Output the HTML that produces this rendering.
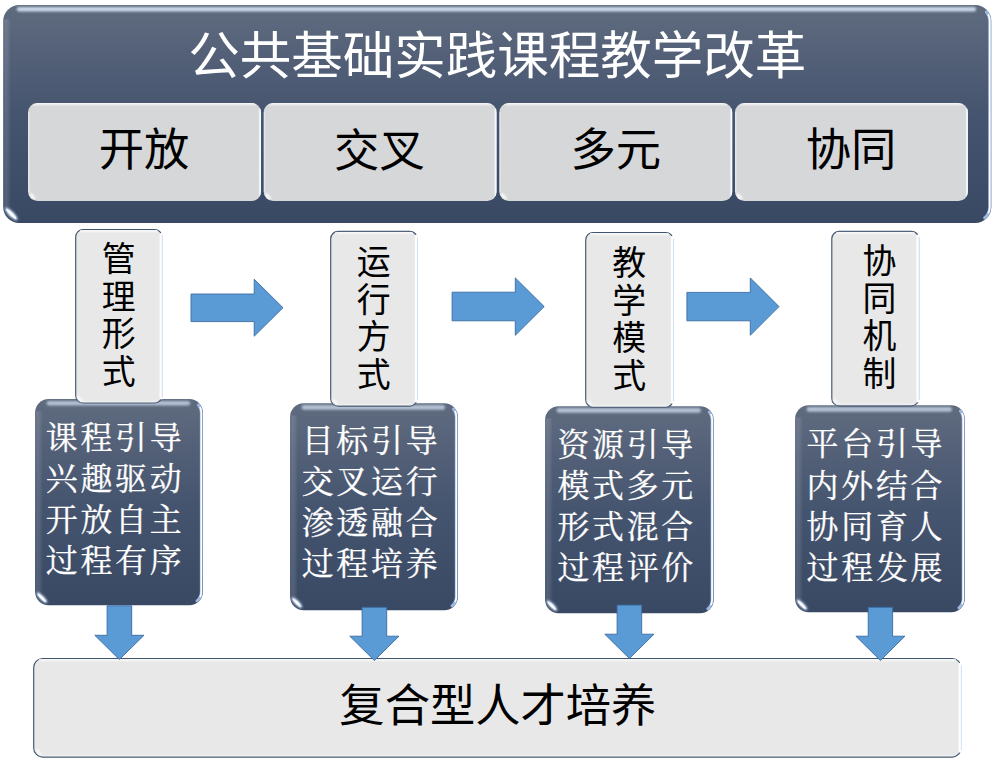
<!DOCTYPE html>
<html lang="zh-CN"><head><meta charset="utf-8"><title>公共基础实践课程教学改革</title>
<style>
html,body{margin:0;padding:0;background:#fff;overflow:hidden}
body{font-family:"Liberation Sans",sans-serif}
#stage{position:relative;width:995px;height:761px;overflow:hidden;background:#fff}
#stage svg{position:absolute;left:0;top:0;display:block}
.t{position:absolute;box-sizing:border-box;margin:0;color:transparent;text-align:center;white-space:nowrap;overflow:hidden;font-family:"Liberation Sans",sans-serif}
.t.k{text-align:left;font-family:"Liberation Serif",serif}
</style>
</head><body>
<div id="stage">
<svg width="995" height="761" viewBox="0 0 995 761" role="img" aria-label="公共基础实践课程教学改革">
<defs><linearGradient id="gd" x1="0" y1="0" x2="0" y2="1"><stop offset="0" stop-color="#5f6c7f"/><stop offset="0.25" stop-color="#525f77"/><stop offset="0.5" stop-color="#46556f"/><stop offset="1" stop-color="#394963"/></linearGradient><linearGradient id="gtop" x1="0" y1="0" x2="0" y2="1"><stop offset="0" stop-color="#c3cfe3" stop-opacity="0"/><stop offset="0.28" stop-color="#c3cfe3" stop-opacity="0.9"/><stop offset="0.5" stop-color="#c6d2e6" stop-opacity="1"/><stop offset="0.66" stop-color="#b4c0d5" stop-opacity="0.75"/><stop offset="1" stop-color="#8d9ab0" stop-opacity="0"/></linearGradient><linearGradient id="ltop" x1="0" y1="0" x2="0" y2="1"><stop offset="0" stop-color="#fff" stop-opacity="0.85"/><stop offset="1" stop-color="#fff" stop-opacity="0"/></linearGradient><linearGradient id="rhi" x1="0" y1="0" x2="1" y2="0"><stop offset="0" stop-color="#dbe8f8" stop-opacity="0"/><stop offset="0.35" stop-color="#e8f1fc" stop-opacity="0.95"/><stop offset="0.75" stop-color="#fff"/><stop offset="1" stop-color="#cfdcf0"/></linearGradient><linearGradient id="lhi" x1="0" y1="0" x2="1" y2="0"><stop offset="0" stop-color="#fff" stop-opacity="0"/><stop offset="0.2" stop-color="#fff" stop-opacity="0.13"/><stop offset="0.6" stop-color="#fff" stop-opacity="0.09"/><stop offset="1" stop-color="#fff" stop-opacity="0"/></linearGradient><filter id="bl" x="-50%" y="-50%" width="200%" height="200%"><feGaussianBlur stdDeviation="1.0"/></filter><filter id="bt" x="-5%" y="-200%" width="110%" height="500%"><feGaussianBlur stdDeviation="1.15"/></filter><filter id="bs" x="-50%" y="-50%" width="200%" height="200%"><feGaussianBlur stdDeviation="0.45"/></filter><linearGradient id="ol" x1="0" y1="0" x2="1" y2="0"><stop offset="0" stop-color="#3f5a80"/><stop offset="0.6" stop-color="#4e688c"/><stop offset="0.97" stop-color="#7d93b3"/><stop offset="1" stop-color="#b9c9e0"/></linearGradient><clipPath id="c1"><rect x="3.20" y="5.00" width="988.10" height="217.90" rx="16.00" /></clipPath><clipPath id="c2"><rect x="28.00" y="103.00" width="233.05" height="98.00" rx="9.50" /></clipPath><clipPath id="c3"><rect x="263.65" y="103.00" width="233.05" height="98.00" rx="9.50" /></clipPath><clipPath id="c4"><rect x="499.30" y="103.00" width="233.05" height="98.00" rx="9.50" /></clipPath><clipPath id="c5"><rect x="734.95" y="103.00" width="233.05" height="98.00" rx="9.50" /></clipPath><clipPath id="c6"><rect x="33.20" y="658.00" width="928.40" height="99.60" rx="9.50" /></clipPath><clipPath id="c7"><rect x="35.10" y="399.10" width="167.80" height="206.20" rx="13.50" /></clipPath><clipPath id="c8"><rect x="290.10" y="403.20" width="167.80" height="207.00" rx="13.50" /></clipPath><clipPath id="c9"><rect x="545.10" y="406.20" width="168.60" height="207.00" rx="13.50" /></clipPath><clipPath id="c10"><rect x="795.10" y="405.20" width="169.70" height="207.10" rx="13.50" /></clipPath><clipPath id="c11"><rect x="75.20" y="229.00" width="87.30" height="174.50" rx="8.00" /></clipPath><clipPath id="c12"><rect x="330.20" y="230.80" width="87.50" height="175.80" rx="8.00" /></clipPath><clipPath id="c13"><rect x="585.20" y="232.00" width="88.50" height="175.70" rx="8.00" /></clipPath><clipPath id="c14"><rect x="831.30" y="230.80" width="88.10" height="175.60" rx="8.00" /></clipPath></defs>
<rect x="3.20" y="5.00" width="988.10" height="217.90" rx="16.00" fill="url(#gd)"/>
<g clip-path="url(#c1)"><rect x="16.80" y="6.90" width="959.30" height="4.6" rx="2.3" fill="#c9d5e8" opacity="1.00" filter="url(#bt)"/><rect x="3.50" y="19.40" width="7.5" height="189.10" fill="url(#lhi)"/><path d="M986.33 11.74A14.40 14.40 0 0 1 989.70 21.00V206.90A14.40 14.40 0 0 1 984.56 217.93" fill="none" stroke="#9bb8e2" stroke-width="2.9" stroke-linecap="round" filter="url(#bs)"/><path d="M988.35 14.91A14.40 14.40 0 0 1 989.70 21.00V206.90A14.40 14.40 0 0 1 988.46 212.76" fill="none" stroke="#fff" stroke-width="1.6" stroke-linecap="round" filter="url(#bs)"/><ellipse cx="11.20" cy="213.94" rx="8.64" ry="2.72" transform="rotate(45 11.20 213.94)" fill="#c9dcf6" filter="url(#bl)"/><ellipse cx="11.20" cy="213.94" rx="7.04" ry="1.60" transform="rotate(45 11.20 213.94)" fill="#fff" filter="url(#bs)"/></g>
<rect x="28.00" y="103.00" width="233.05" height="98.00" rx="9.50" fill="#d6d7d9"/>
<g clip-path="url(#c2)"><rect x="31.80" y="103.00" width="224.50" height="3.6" fill="url(#ltop)"/><rect x="258.25" y="108.70" width="2.8" height="88.50" fill="url(#rhi)"/><rect x="28.00" y="112.50" width="1.6" height="79.00" fill="#fff" opacity="0.35"/><ellipse cx="32.27" cy="196.25" rx="4.0" ry="1.5" transform="rotate(45 32.27 196.25)" fill="#fff" filter="url(#bl)"/></g>
<rect x="263.65" y="103.00" width="233.05" height="98.00" rx="9.50" fill="#d6d7d9"/>
<g clip-path="url(#c3)"><rect x="267.45" y="103.00" width="224.50" height="3.6" fill="url(#ltop)"/><rect x="493.90" y="108.70" width="2.8" height="88.50" fill="url(#rhi)"/><rect x="263.65" y="112.50" width="1.6" height="79.00" fill="#fff" opacity="0.35"/><ellipse cx="267.92" cy="196.25" rx="4.0" ry="1.5" transform="rotate(45 267.92 196.25)" fill="#fff" filter="url(#bl)"/></g>
<rect x="499.30" y="103.00" width="233.05" height="98.00" rx="9.50" fill="#d6d7d9"/>
<g clip-path="url(#c4)"><rect x="503.10" y="103.00" width="224.50" height="3.6" fill="url(#ltop)"/><rect x="729.55" y="108.70" width="2.8" height="88.50" fill="url(#rhi)"/><rect x="499.30" y="112.50" width="1.6" height="79.00" fill="#fff" opacity="0.35"/><ellipse cx="503.57" cy="196.25" rx="4.0" ry="1.5" transform="rotate(45 503.57 196.25)" fill="#fff" filter="url(#bl)"/></g>
<rect x="734.95" y="103.00" width="233.05" height="98.00" rx="9.50" fill="#d6d7d9"/>
<g clip-path="url(#c5)"><rect x="738.75" y="103.00" width="224.50" height="3.6" fill="url(#ltop)"/><rect x="965.20" y="108.70" width="2.8" height="88.50" fill="url(#rhi)"/><rect x="734.95" y="112.50" width="1.6" height="79.00" fill="#fff" opacity="0.35"/><ellipse cx="739.23" cy="196.25" rx="4.0" ry="1.5" transform="rotate(45 739.23 196.25)" fill="#fff" filter="url(#bl)"/></g>
<rect x="33.70" y="658.50" width="927.40" height="98.60" rx="9.00" fill="#e8e8e8" stroke="#41546f" stroke-width="1.15"/>
<g clip-path="url(#c6)"><rect x="38.90" y="659.10" width="917.00" height="3.2" fill="url(#ltop)"/><rect x="38.90" y="754.70" width="917.00" height="1.8" fill="#fff" opacity="0.3"/><ellipse cx="38.43" cy="751.90" rx="3.6" ry="1.2" transform="rotate(45 38.43 751.90)" fill="#fff" filter="url(#bl)"/></g>
<rect x="958.70" y="662.75" width="3.3" height="90.10" rx="1.4" fill="#fff"/>
<rect x="960.90" y="665.60" width="0.7" height="84.40" fill="#bcd3ee"/>
<rect x="35.10" y="399.10" width="167.80" height="206.20" rx="13.50" fill="url(#gd)"/>
<g clip-path="url(#c7)"><rect x="46.58" y="401.00" width="143.50" height="4.6" rx="2.3" fill="#c9d5e8" opacity="0.80" filter="url(#bt)"/><rect x="35.40" y="411.25" width="7.5" height="181.90" fill="url(#lhi)"/><path d="M198.52 404.95A11.90 11.90 0 0 1 201.30 412.60V591.80A11.90 11.90 0 0 1 197.05 600.92" fill="none" stroke="#9bb8e2" stroke-width="2.9" stroke-linecap="round" filter="url(#bs)"/><path d="M200.19 407.57A11.90 11.90 0 0 1 201.30 412.60V591.80A11.90 11.90 0 0 1 200.27 596.64" fill="none" stroke="#fff" stroke-width="1.6" stroke-linecap="round" filter="url(#bs)"/><ellipse cx="41.85" cy="597.74" rx="7.29" ry="2.30" transform="rotate(45 41.85 597.74)" fill="#c9dcf6" filter="url(#bl)"/><ellipse cx="41.85" cy="597.74" rx="5.94" ry="1.35" transform="rotate(45 41.85 597.74)" fill="#fff" filter="url(#bs)"/></g>
<rect x="290.10" y="403.20" width="167.80" height="207.00" rx="13.50" fill="url(#gd)"/>
<g clip-path="url(#c8)"><rect x="301.58" y="405.10" width="143.50" height="4.6" rx="2.3" fill="#c9d5e8" opacity="0.80" filter="url(#bt)"/><rect x="290.40" y="415.35" width="7.5" height="182.70" fill="url(#lhi)"/><path d="M453.52 409.05A11.90 11.90 0 0 1 456.30 416.70V596.70A11.90 11.90 0 0 1 452.05 605.82" fill="none" stroke="#9bb8e2" stroke-width="2.9" stroke-linecap="round" filter="url(#bs)"/><path d="M455.19 411.67A11.90 11.90 0 0 1 456.30 416.70V596.70A11.90 11.90 0 0 1 455.27 601.54" fill="none" stroke="#fff" stroke-width="1.6" stroke-linecap="round" filter="url(#bs)"/><ellipse cx="296.85" cy="602.64" rx="7.29" ry="2.30" transform="rotate(45 296.85 602.64)" fill="#c9dcf6" filter="url(#bl)"/><ellipse cx="296.85" cy="602.64" rx="5.94" ry="1.35" transform="rotate(45 296.85 602.64)" fill="#fff" filter="url(#bs)"/></g>
<rect x="545.10" y="406.20" width="168.60" height="207.00" rx="13.50" fill="url(#gd)"/>
<g clip-path="url(#c9)"><rect x="556.58" y="408.10" width="144.30" height="4.6" rx="2.3" fill="#c9d5e8" opacity="0.80" filter="url(#bt)"/><rect x="545.40" y="418.35" width="7.5" height="182.70" fill="url(#lhi)"/><path d="M709.32 412.05A11.90 11.90 0 0 1 712.10 419.70V599.70A11.90 11.90 0 0 1 707.85 608.82" fill="none" stroke="#9bb8e2" stroke-width="2.9" stroke-linecap="round" filter="url(#bs)"/><path d="M710.99 414.67A11.90 11.90 0 0 1 712.10 419.70V599.70A11.90 11.90 0 0 1 711.07 604.54" fill="none" stroke="#fff" stroke-width="1.6" stroke-linecap="round" filter="url(#bs)"/><ellipse cx="551.85" cy="605.64" rx="7.29" ry="2.30" transform="rotate(45 551.85 605.64)" fill="#c9dcf6" filter="url(#bl)"/><ellipse cx="551.85" cy="605.64" rx="5.94" ry="1.35" transform="rotate(45 551.85 605.64)" fill="#fff" filter="url(#bs)"/></g>
<rect x="795.10" y="405.20" width="169.70" height="207.10" rx="13.50" fill="url(#gd)"/>
<g clip-path="url(#c10)"><rect x="806.58" y="407.10" width="145.40" height="4.6" rx="2.3" fill="#c9d5e8" opacity="0.80" filter="url(#bt)"/><rect x="795.40" y="417.35" width="7.5" height="182.80" fill="url(#lhi)"/><path d="M960.42 411.05A11.90 11.90 0 0 1 963.20 418.70V598.80A11.90 11.90 0 0 1 958.95 607.92" fill="none" stroke="#9bb8e2" stroke-width="2.9" stroke-linecap="round" filter="url(#bs)"/><path d="M962.09 413.67A11.90 11.90 0 0 1 963.20 418.70V598.80A11.90 11.90 0 0 1 962.17 603.64" fill="none" stroke="#fff" stroke-width="1.6" stroke-linecap="round" filter="url(#bs)"/><ellipse cx="801.85" cy="604.74" rx="7.29" ry="2.30" transform="rotate(45 801.85 604.74)" fill="#c9dcf6" filter="url(#bl)"/><ellipse cx="801.85" cy="604.74" rx="5.94" ry="1.35" transform="rotate(45 801.85 604.74)" fill="#fff" filter="url(#bs)"/></g>
<rect x="75.70" y="229.50" width="86.30" height="173.50" rx="7.50" fill="#e8e8e8" stroke="#41546f" stroke-width="1.15"/>
<g clip-path="url(#c11)"><rect x="80.00" y="230.10" width="77.70" height="3.2" fill="url(#ltop)"/><rect x="80.00" y="400.60" width="77.70" height="1.8" fill="#fff" opacity="0.3"/><ellipse cx="79.60" cy="398.70" rx="3.6" ry="1.2" transform="rotate(45 79.60 398.70)" fill="#fff" filter="url(#bl)"/></g>
<rect x="159.60" y="233.00" width="3.3" height="166.50" rx="1.4" fill="#fff"/>
<rect x="161.80" y="235.40" width="0.7" height="161.70" fill="#bcd3ee"/>
<rect x="330.70" y="231.30" width="86.50" height="174.80" rx="7.50" fill="#e8e8e8" stroke="#41546f" stroke-width="1.15"/>
<g clip-path="url(#c12)"><rect x="335.00" y="231.90" width="77.90" height="3.2" fill="url(#ltop)"/><rect x="335.00" y="403.70" width="77.90" height="1.8" fill="#fff" opacity="0.3"/><ellipse cx="334.60" cy="401.80" rx="3.6" ry="1.2" transform="rotate(45 334.60 401.80)" fill="#fff" filter="url(#bl)"/></g>
<rect x="414.80" y="234.80" width="3.3" height="167.80" rx="1.4" fill="#fff"/>
<rect x="417.00" y="237.20" width="0.7" height="163.00" fill="#bcd3ee"/>
<rect x="585.70" y="232.50" width="87.50" height="174.70" rx="7.50" fill="#e8e8e8" stroke="#41546f" stroke-width="1.15"/>
<g clip-path="url(#c13)"><rect x="590.00" y="233.10" width="78.90" height="3.2" fill="url(#ltop)"/><rect x="590.00" y="404.80" width="78.90" height="1.8" fill="#fff" opacity="0.3"/><ellipse cx="589.60" cy="402.90" rx="3.6" ry="1.2" transform="rotate(45 589.60 402.90)" fill="#fff" filter="url(#bl)"/></g>
<rect x="670.80" y="236.00" width="3.3" height="167.70" rx="1.4" fill="#fff"/>
<rect x="673.00" y="238.40" width="0.7" height="162.90" fill="#bcd3ee"/>
<rect x="831.80" y="231.30" width="87.10" height="174.60" rx="7.50" fill="#e8e8e8" stroke="#41546f" stroke-width="1.15"/>
<g clip-path="url(#c14)"><rect x="836.10" y="231.90" width="78.50" height="3.2" fill="url(#ltop)"/><rect x="836.10" y="403.50" width="78.50" height="1.8" fill="#fff" opacity="0.3"/><ellipse cx="835.70" cy="401.60" rx="3.6" ry="1.2" transform="rotate(45 835.70 401.60)" fill="#fff" filter="url(#bl)"/></g>
<rect x="916.50" y="234.80" width="3.3" height="167.60" rx="1.4" fill="#fff"/>
<rect x="918.70" y="237.20" width="0.7" height="162.80" fill="#bcd3ee"/>
<path d="M107.10 605.80H131.70V635.30H144.00L119.40 659.50L94.80 635.30H107.10Z" fill="#5b9bd5" stroke="#3a6ba2" stroke-width="0.9" stroke-linejoin="miter"/>
<path d="M362.10 607.30H386.70V636.20H399.00L374.40 660.50L349.80 636.20H362.10Z" fill="#5b9bd5" stroke="#3a6ba2" stroke-width="0.9" stroke-linejoin="miter"/>
<path d="M617.10 605.10H641.70V634.20H654.00L629.40 658.50L604.80 634.20H617.10Z" fill="#5b9bd5" stroke="#3a6ba2" stroke-width="0.9" stroke-linejoin="miter"/>
<path d="M868.20 607.30H892.60V636.20H904.90L880.40 660.50L855.90 636.20H868.20Z" fill="#5b9bd5" stroke="#3a6ba2" stroke-width="0.9" stroke-linejoin="miter"/>
<path d="M191.00 294.00H254.20V279.20L283.00 307.70L254.20 336.20V321.60H191.00Z" fill="#5b9bd5" stroke="#3a6ba2" stroke-width="0.9" stroke-linejoin="miter"/>
<path d="M452.10 292.20H515.30V277.90L544.20 306.60L515.30 335.30V320.80H452.10Z" fill="#5b9bd5" stroke="#3a6ba2" stroke-width="0.9" stroke-linejoin="miter"/>
<path d="M686.90 292.40H750.30V277.90L779.00 306.60L750.30 335.30V320.80H686.90Z" fill="#5b9bd5" stroke="#3a6ba2" stroke-width="0.9" stroke-linejoin="miter"/>
<g font-family="'Liberation Sans','Noto Sans CJK SC',sans-serif" text-anchor="middle">
<text x="497.37" y="74.20" font-size="51.5" fill="#fff">公共基础实践课程教学改革</text>
<text x="144.03" y="166.37" font-size="45.3" fill="#000">开放</text>
<text x="379.42" y="166.55" font-size="45.3" fill="#000">交叉</text>
<text x="615.71" y="166.41" font-size="45.3" fill="#000">多元</text>
<text x="850.98" y="166.39" font-size="45.3" fill="#000">协同</text>
<text x="497.89" y="722.36" font-size="45.3" fill="#000">复合型人才培养</text>
<g font-size="33.9" fill="#000">
<text x="118.70" y="271.10">管</text><text x="118.70" y="308.70">理</text><text x="118.70" y="346.30">形</text><text x="118.70" y="383.90">式</text>
<text x="373.70" y="274.28">运</text><text x="373.70" y="311.88">行</text><text x="373.70" y="349.48">方</text><text x="373.70" y="387.08">式</text>
<text x="629.30" y="275.27">教</text><text x="629.30" y="312.87">学</text><text x="629.30" y="350.47">模</text><text x="629.30" y="388.07">式</text>
<text x="879.50" y="273.15">协</text><text x="879.50" y="310.75">同</text><text x="879.50" y="348.35">机</text><text x="879.50" y="385.95">制</text>
</g>
</g>
<g font-family="'Liberation Serif','Noto Serif CJK SC',serif" font-size="31.9" letter-spacing="2.77" fill="#fff" stroke="#fff" stroke-width="0.3" stroke-linejoin="round">
<text x="45.79" y="448.53">课程引导</text>
<text x="45.79" y="489.78">兴趣驱动</text>
<text x="45.79" y="531.03">开放自主</text>
<text x="45.79" y="572.28">过程有序</text>
<text x="301.69" y="451.53">目标引导</text>
<text x="301.69" y="492.78">交叉运行</text>
<text x="301.69" y="534.03">渗透融合</text>
<text x="301.69" y="575.28">过程培养</text>
<text x="557.39" y="455.71">资源引导</text>
<text x="557.39" y="496.96">模式多元</text>
<text x="557.39" y="538.21">形式混合</text>
<text x="557.39" y="579.46">过程评价</text>
<text x="806.59" y="455.30">平台引导</text>
<text x="806.59" y="496.55">内外结合</text>
<text x="806.59" y="537.80">协同育人</text>
<text x="806.59" y="579.05">过程发展</text>
</g>
</svg>
<div class="t" style="left:3.2px;top:24.0px;width:988.1px;height:62.0px;font-size:51.50px;line-height:62.0px">公共基础实践课程教学改革</div>
<div class="t" style="left:28.0px;top:103.0px;width:233.1px;height:98.0px;font-size:45.30px;line-height:98.0px">开放</div>
<div class="t" style="left:263.6px;top:103.0px;width:233.1px;height:98.0px;font-size:45.30px;line-height:98.0px">交叉</div>
<div class="t" style="left:499.3px;top:103.0px;width:233.1px;height:98.0px;font-size:45.30px;line-height:98.0px">多元</div>
<div class="t" style="left:735.0px;top:103.0px;width:233.0px;height:98.0px;font-size:45.30px;line-height:98.0px">协同</div>
<div class="t" style="left:75.2px;top:229.0px;width:87.3px;height:174.5px;font-size:33.9px;line-height:37.6px;padding-top:10px">管<br>理<br>形<br>式</div>
<div class="t" style="left:330.2px;top:230.8px;width:87.5px;height:175.8px;font-size:33.9px;line-height:37.6px;padding-top:10px">运<br>行<br>方<br>式</div>
<div class="t" style="left:585.2px;top:232.0px;width:88.5px;height:175.7px;font-size:33.9px;line-height:37.6px;padding-top:10px">教<br>学<br>模<br>式</div>
<div class="t" style="left:831.3px;top:230.8px;width:88.1px;height:175.6px;font-size:33.9px;line-height:37.6px;padding-top:10px">协<br>同<br>机<br>制</div>
<div class="t k" style="left:35.1px;top:399.1px;width:167.8px;height:206.2px;font-size:34.67px;line-height:41.25px;padding:18px 0 0 9.3px">课程引导<br>兴趣驱动<br>开放自主<br>过程有序</div>
<div class="t k" style="left:290.1px;top:403.2px;width:167.8px;height:207.0px;font-size:34.67px;line-height:41.25px;padding:18px 0 0 10.2px">目标引导<br>交叉运行<br>渗透融合<br>过程培养</div>
<div class="t k" style="left:545.1px;top:406.2px;width:168.6px;height:207.0px;font-size:34.67px;line-height:41.25px;padding:18px 0 0 10.9px">资源引导<br>模式多元<br>形式混合<br>过程评价</div>
<div class="t k" style="left:795.1px;top:405.2px;width:169.7px;height:207.1px;font-size:34.67px;line-height:41.25px;padding:18px 0 0 10.1px">平台引导<br>内外结合<br>协同育人<br>过程发展</div>
<div class="t" style="left:33.2px;top:658.0px;width:928.4px;height:99.6px;font-size:45.30px;line-height:99.6px">复合型人才培养</div>
</div>
</body></html>
